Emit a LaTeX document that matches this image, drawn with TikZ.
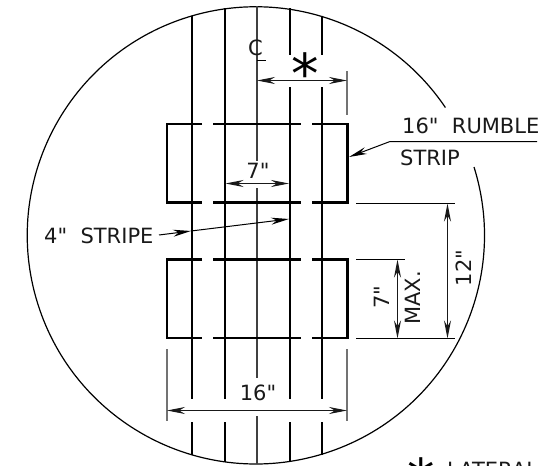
\documentclass[tikz,border=0pt]{standalone}
\usepackage{fontspec}
\setmainfont{DejaVu Sans}[Ligatures=TeXOff]
\usetikzlibrary{arrows.meta}
\tikzset{
 x=1pt,y=-1pt,
 stripe/.style={line width=2pt,black},
 cline/.style={line width=1.2pt,black!75},
 strip/.style={line width=2.5pt,black},
 ext/.style={line width=1.1pt,black!55},
 dimn/.style={line width=1pt,black!90,{Stealth[length=18pt,width=7pt]}-{Stealth[length=18pt,width=7pt]}},
 lead/.style={line width=1pt,black,-{Stealth[length=18pt,width=7pt]}},
 witness/.style={line width=1pt,black},
 txt/.style={font=\fontsize{21}{21}\selectfont,inner sep=0pt,text=black!90},
 bigstar/.style={font=\fontsize{55}{55}\selectfont,inner sep=0pt,text=black,anchor=base},
}
\begin{document}
\begin{tikzpicture}
\useasboundingbox (0,0) rectangle (539,466);
% circle
\draw[line width=1.2pt] (474,167) arc[start angle=-17.4,end angle=326,radius=228.6];
% stripes
\foreach \x/\t/\b in {191.7/15.5/454.5,224.7/8.3/461.7,289.7/8.3/461.7,322.3/15.5/454.5}{
  \draw[stripe] (\x,422) -- (\x,\b);
}
\draw[stripe] (191.7,15.5) -- (191.7,399);
\draw[stripe] (224.7,8.3) -- (224.7,399);
\draw[stripe] (289.7,8.3) -- (289.7,55);
\draw[stripe] (289.7,87) -- (289.7,399);
\draw[stripe] (322.3,15.5) -- (322.3,55);
\draw[stripe] (322.3,87) -- (322.3,399);
% centre line
\draw[cline] (256.9,6) -- (256.9,161);
\draw[cline] (256.9,188) -- (256.9,378);
\draw[cline] (256.9,416) -- (256.9,464);
% rumble strips
\foreach \t/\b in {124/202.7,259.7/338}{
  \draw[strip] (202,\t) -- (167,\t) -- (167,\b) -- (202,\b);
  \draw[strip] (213,\t) -- (301,\t);
  \draw[strip] (213,\b) -- (301,\b);
  \draw[strip] (312,\t) -- (347.5,\t) -- (347.5,\b) -- (312,\b);
}
% extension lines
\draw[ext] (347,71) -- (347,115);
\draw[ext] (167,349) -- (167,421);
\draw[ext] (347,349) -- (347,421);
\draw[witness] (356,203.5) -- (455,203.5);
\draw[witness] (356,259.5) -- (405,259.5);
\draw[witness] (356,338.5) -- (455,338.5);
% dimensions
\coordinate (ca) at (257,80.5); \coordinate (cb) at (347,80.5);
\draw[dimn] (ca) -- (cb);
\coordinate (sa) at (225.5,183.5); \coordinate (sb) at (289,183.5);
\draw[dimn] (sa) -- (sb);
\coordinate (wa) at (167,410.5); \coordinate (wb) at (347,410.5);
\draw[dimn] (wa) -- (wb);
\coordinate (ga) at (447.5,203.5); \coordinate (gb) at (447.5,338.5);
\draw[dimn] (ga) -- (gb);
\coordinate (ma) at (397.5,259.5); \coordinate (mb) at (397.5,338.5);
\draw[dimn] (ma) -- (mb);
% labels
\node[txt] (cl) at (255.5,48) {C};
\draw[line width=1pt] (257,60) -- (266,60);
\node[bigstar] (star) at (305,93) {*};
\node[txt] (seven) at (258,171) {7"};
\node[txt,anchor=base west] (rumble) at (402,133) {16"\ \ RUMBLE};
\node[txt,anchor=base west] (stripl) at (400,165) {STRIP};
\node[txt,anchor=base west] (stripe) at (44,243) {4"\ \ STRIPE};
\node[txt] (w16) at (258,393) {16"};
\node[txt,rotate=90] (d12) at (464,268) {12"};
\node[txt,rotate=90] (d7) at (382,297) {7"};
\node[txt,rotate=90] (dmax) at (413,298) {MAX.};
\node[bigstar] (lstar) at (421,498) {*};
\node[txt,anchor=base west] (lat) at (447,477.3) {LATERAL};
% leaders
\coordinate (r1) at (537,141.5); \coordinate (r2) at (390,141.5); \coordinate (r3) at (349,157);
\draw[lead] (r1) -- (r2) -- (r3);
\coordinate (s1) at (159,235); \coordinate (s2) at (191,231); \coordinate (s3) at (289,219);
\draw[lead] (s1) -- (s2);
\draw[lead] (s2) -- (s3);
\end{tikzpicture}
\end{document}
